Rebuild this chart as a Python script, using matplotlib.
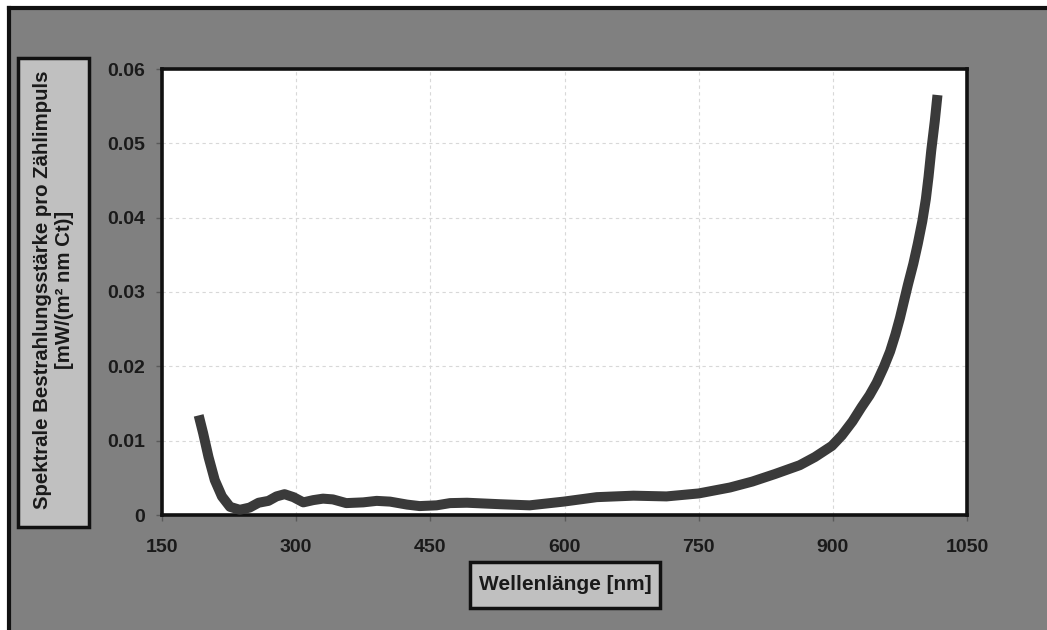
import matplotlib

matplotlib.use("Agg")
import matplotlib.pyplot as plt
from matplotlib.lines import Line2D
from matplotlib.patches import Rectangle

plt.rcParams["font.family"] = ["Liberation Sans", "DejaVu Sans"]

# spectral irradiance per count
wavelength = [191, 196, 202, 209, 217, 226, 237, 248, 258, 269, 278, 287, 297,
              308, 319, 330, 341, 356, 375, 390, 405, 424, 438, 457, 472, 491,
              528, 561, 599, 636, 677, 714, 750, 785, 810, 835, 863, 880, 899,
              910, 922, 932, 941, 949, 957, 964, 970, 975, 984, 990, 995, 1000,
              1004, 1007, 1010, 1014, 1017]
irradiance = [0.0134, 0.0110, 0.0078, 0.0047, 0.0025, 0.0011, 0.0007, 0.0010,
              0.00165, 0.0019, 0.0025, 0.0028, 0.0024, 0.0017, 0.0020, 0.0022,
              0.0021, 0.0016, 0.0017, 0.0019, 0.0018, 0.0014, 0.0012, 0.0013,
              0.0016, 0.00165, 0.00145, 0.0013, 0.0018, 0.0024, 0.0026, 0.0025,
              0.0029, 0.0037, 0.0045, 0.0055, 0.0067, 0.0078, 0.0093, 0.0107,
              0.0126, 0.0145, 0.0161, 0.0178, 0.0199, 0.0220, 0.0243, 0.0265,
              0.0310, 0.0338, 0.0365, 0.0395, 0.0425, 0.0455, 0.0490, 0.0530,
              0.0565]

x_ticks = [150, 300, 450, 600, 750, 900, 1050]
y_ticks = [0, 0.01, 0.02, 0.03, 0.04, 0.05, 0.06]
y_tick_labels = ["0", "0.01", "0.02", "0.03", "0.04", "0.05", "0.06"]

GREY_BG = "#808080"
BOX = "#c0c0c0"
INK = "#1a1a1a"
CURVE = "#3a3a3a"

W, H = 1047, 630
fig = plt.figure(figsize=(W / 100, H / 100), dpi=100)
fig.patch.set_facecolor("white")

# grey canvas with a black frame on the left and top edges
fig.add_artist(Rectangle((9 / W, 0), 1, 1 - 8 / H, transform=fig.transFigure,
                         facecolor=GREY_BG, edgecolor="none", zorder=0))
fig.add_artist(Line2D([9 / W, 9 / W], [0, 1 - 8 / H], transform=fig.transFigure,
                      color="#111111", lw=3))
fig.add_artist(Line2D([9 / W, 1], [1 - 8 / H, 1 - 8 / H], transform=fig.transFigure,
                      color="#111111", lw=3))

ax = fig.add_axes([162 / W, (H - 515) / H, (967 - 162) / W, (515 - 69) / H])
ax.set_facecolor("white")
ax.plot(wavelength, irradiance, color=CURVE, lw=7.2, solid_capstyle="butt",
        solid_joinstyle="round", zorder=3)

ax.set_xlim(150, 1050)
ax.set_ylim(0, 0.06)
ax.set_xticks(x_ticks)
ax.set_yticks(y_ticks)
ax.set_yticklabels(y_tick_labels)
ax.grid(True, color="#d8d8d8", lw=0.8, ls=(0, (3, 3)), zorder=0)
for s in ax.spines.values():
    s.set_color("#111111")
    s.set_linewidth(2.6)
ax.tick_params(axis="both", direction="out", length=4, width=1, color="#5a5a5a",
               labelcolor=INK, labelsize=14)
ax.tick_params(axis="x", pad=13)
ax.tick_params(axis="y", pad=8)
for lab in ax.get_xticklabels() + ax.get_yticklabels():
    lab.set_fontweight("bold")

# boxed axis titles
fig.add_artist(Rectangle((18 / W, (H - 527) / H), 71 / W, 469 / H,
                         transform=fig.transFigure, facecolor=BOX,
                         edgecolor="#111111", lw=2.5, zorder=2))
fig.text(53.5 / W, (H - 290) / H,
         "Spektrale Bestrahlungsstärke pro Zählimpuls\n[mW/(m² nm Ct)]",
         rotation=90, ha="center", va="center", fontsize=14.7,
         fontweight="bold", color=INK, linespacing=1.15, zorder=3)

fig.add_artist(Rectangle((470 / W, (H - 608) / H), 190 / W, 46 / H,
                         transform=fig.transFigure, facecolor=BOX,
                         edgecolor="#111111", lw=2.5, zorder=2))
fig.text(565 / W, (H - 585) / H, "Wellenlänge [nm]", ha="center", va="center",
         fontsize=15, fontweight="bold", color=INK, zorder=3)

fig.savefig("out.png", dpi=100, facecolor=fig.get_facecolor())
